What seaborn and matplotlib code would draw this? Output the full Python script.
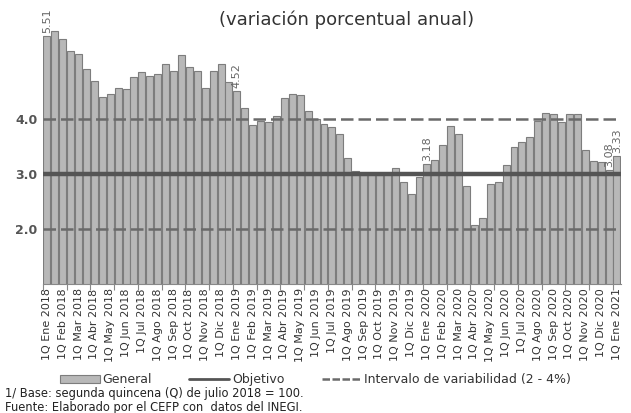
import matplotlib
matplotlib.use("Agg")
import matplotlib.pyplot as plt
import seaborn as sns
import pandas as pd
import numpy as np
from matplotlib.patches import Patch
from matplotlib.lines import Line2D

# ---- data ----
months = ["Ene", "Feb", "Mar", "Abr", "May", "Jun", "Jul", "Ago", "Sep", "Oct", "Nov", "Dic"]
years = [2018, 2019, 2020]
last_period = ("Ene", 2021)

inflacion = [
    5.51, 5.61, 5.46, 5.23, 5.19, 4.91, 4.70, 4.41, 4.46, 4.56, 4.54, 4.76,
    4.85, 4.78, 4.82, 5.01, 4.88, 5.17, 4.95, 4.88, 4.57, 4.88, 5.01, 4.67,
    4.52, 4.21, 3.90, 3.97, 3.95, 4.06, 4.38, 4.46, 4.44, 4.14, 4.00, 3.91,
    3.85, 3.73, 3.29, 3.05, 2.99, 3.00, 2.99, 3.01, 3.11, 2.85, 2.64, 2.95,
    3.18, 3.25, 3.53, 3.88, 3.73, 2.79, 2.08, 2.21, 2.82, 2.85, 3.17, 3.50,
    3.58, 3.67, 3.96, 4.11, 4.10, 3.94, 4.09, 4.09, 3.44, 3.23, 3.22, 3.08,
    3.33,
]
objetivo = 3.0
intervalo = [2.0, 4.0]
etiquetas_idx = [0, 24, 48, 71, 72]

periodos = []
for y in years:
    for m in months:
        periodos.append(f"1Q {m} {y}")
        periodos.append(f"2Q {m} {y}")
periodos.append(f"1Q {last_period[0]} {last_period[1]}")

df = pd.DataFrame({"periodo": periodos, "valor": inflacion})

# ---- figure ----
sns.set_theme(style="white")
plt.rcParams["font.family"] = ["DejaVu Sans"]

fig = plt.figure(figsize=(6.31, 4.13), dpi=100)
ax = fig.add_axes([0.068, 0.312, 0.916, 0.666])

bar_color = "#b8b8b8"
sns.barplot(data=df, x="periodo", y="valor", ax=ax, color=bar_color,
            width=0.88, edgecolor="#7d7d7d", linewidth=0.8, saturation=1)

ax.axhline(objetivo, color="#555555", lw=3.2, zorder=5)
for v in intervalo:
    ax.axhline(v, color="#6a6a6a", lw=1.8, ls=(0, (5, 2)), zorder=5)

ax.set_ylim(1.0, 6.0)
ax.set_xlim(-0.5, len(inflacion) - 0.5)
ax.set_yticks([2.0, 3.0, 4.0])
ax.set_yticklabels(["2.0", "3.0", "4.0"], fontsize=9, color="#555555", fontweight="bold")
ax.tick_params(axis="y", length=0, pad=4)

n = len(periodos)
major = list(range(0, n, 2))
ax.set_xticks(major)
ax.set_xticklabels([periodos[i] for i in major], rotation=90, fontsize=8, color="#333333")
ax.tick_params(axis="x", which="major", length=0, pad=3)
ax.set_xticks(np.arange(-0.5, n - 0.5, 3), minor=True)
ax.tick_params(axis="x", which="minor", length=4, color="#888888", width=0.8, direction="out")
ax.xaxis.set_tick_params(which="minor", bottom=True)

ax.set_xlabel("")
ax.set_ylabel("")
for s in ["top", "right", "left"]:
    ax.spines[s].set_visible(False)
ax.spines["bottom"].set_color("#888888")
ax.spines["bottom"].set_linewidth(0.8)

for i in etiquetas_idx:
    ax.text(i, inflacion[i] + 0.05, f"{inflacion[i]:.2f}", rotation=90,
            ha="center", va="bottom", fontsize=8, color="#666666", zorder=6)

fig.text(0.55, 0.952, "(variación porcentual anual)", ha="center", va="center",
         fontsize=13, color="#333333")

handles = [
    Patch(facecolor=bar_color, edgecolor="#7d7d7d", linewidth=0.8),
    Line2D([0], [0], color="#555555", lw=2),
    Line2D([0], [0], color="#6a6a6a", lw=1.8, ls=(0, (3, 1))),
]
labels = ["General", "Objetivo", "Intervalo de variabilidad (2 - 4%)"]
fig.legend(handles, labels, loc="center", bbox_to_anchor=(0.5, 0.08), ncol=3,
           frameon=False, fontsize=9, handlelength=3.2, handletextpad=0.2,
           columnspacing=3.0, labelcolor="#333333")

fig.text(0.008, 0.048, "1/ Base: segunda quincena (Q) de julio 2018 = 100.",
         fontsize=8.3, color="#222222", va="center")
fig.text(0.008, 0.013, "Fuente: Elaborado por el CEFP con  datos del INEGI.",
         fontsize=8.3, color="#222222", va="center")

fig.savefig("out.png", dpi=100)
